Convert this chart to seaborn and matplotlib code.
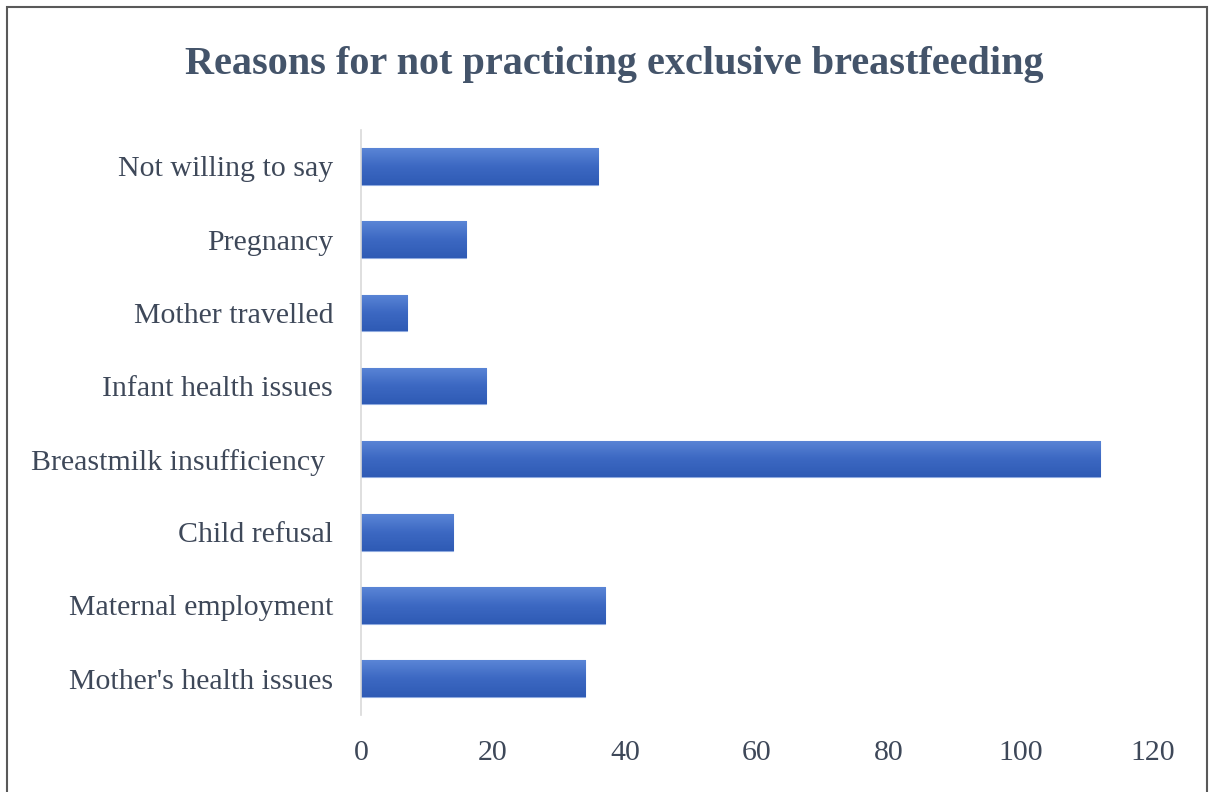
import numpy as np
import pandas as pd
import matplotlib
matplotlib.use('Agg')
import matplotlib.pyplot as plt
import seaborn as sns

# data (top to bottom)
reasons = [
    "Not willing to say",
    "Pregnancy",
    "Mother travelled",
    "Infant health issues",
    "Breastmilk insufficiency ",
    "Child refusal",
    "Maternal employment",
    "Mother's health issues",
]
counts = [36, 16, 7, 19, 112, 14, 37, 34]
x_ticks = [0, 20, 40, 60, 80, 100, 120]

df = pd.DataFrame({"reason": reasons, "count": counts})

sns.set_style("white")
plt.rcParams['font.family'] = ['Liberation Serif', 'DejaVu Serif']

text_col = '#3E4859'
bar_col = '#4170C8'

fig = plt.figure(figsize=(12.11, 7.92), dpi=100)
ax = fig.add_axes([0.298, 0.097, 0.654, 0.739])

sns.barplot(data=df, x="count", y="reason", color=bar_col, width=0.5,
            saturation=1, ax=ax, orient='h')

# light-to-dark vertical gradient inside each bar, like the office style
grad = np.linspace(0, 1, 64).reshape(-1, 1)
cmap = matplotlib.colors.LinearSegmentedColormap.from_list(
    'bar', ['#5A85D6', '#3C68C2', '#2F5BB5'])
for p in ax.patches:
    x0, y0 = p.get_x(), p.get_y()
    w, h = p.get_width(), p.get_height()
    p.set_edgecolor('#8FAADF')
    p.set_linewidth(0.8)
    im = ax.imshow(grad, extent=[x0, x0 + w, y0 + h, y0], cmap=cmap,
                   aspect='auto', zorder=p.get_zorder() + 0.1,
                   interpolation='bicubic')
    im.set_clip_path(p)

ax.set_xlim(0, 120)
ax.set_ylim(7.5, -0.5)
ax.set_xticks(x_ticks)
ax.set_xticklabels([str(t) for t in x_ticks])
ax.set_xlabel("")
ax.set_ylabel("")
ax.tick_params(axis='both', length=0, labelsize=21.5, colors=text_col)
ax.tick_params(axis='x', pad=18)
ax.tick_params(axis='y', pad=20)

for s in ['top', 'right', 'bottom']:
    ax.spines[s].set_visible(False)
ax.spines['left'].set_color('#D9D9D9')
ax.spines['left'].set_linewidth(1.2)

fig.text(0.507, 0.918, "Reasons for not practicing exclusive breastfeeding",
         ha='center', va='center', fontsize=29, fontweight='bold',
         color='#44546A')

# outer frame of the chart area
frame = plt.Rectangle((0.006, -0.01), 0.991, 1.001, transform=fig.transFigure,
                      fill=False, edgecolor='#595959', linewidth=1.5)
fig.patches.append(frame)

fig.savefig('out.png', dpi=100)
plt.close()
